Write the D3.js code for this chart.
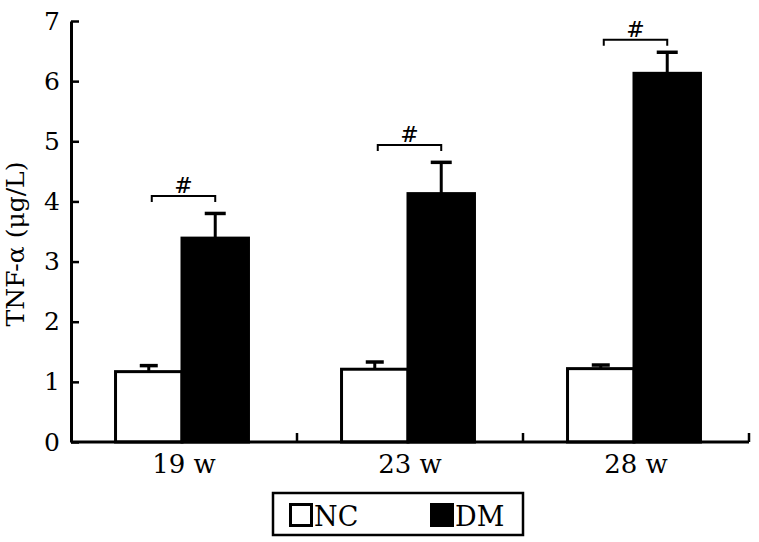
<!DOCTYPE html>
<html>
<head>
<meta charset="utf-8">
<script src="https://cdn.jsdelivr.net/npm/d3@7"></script>
<style>
  html, body { margin: 0; padding: 0; background: #fff; }
  svg { display: block; }
  text { font-family: "DejaVu Serif", "Liberation Serif", serif; fill: #000; }
</style>
</head>
<body>
<svg id="chart" width="759" height="542"></svg>
<script>
// ---- data ----
const categories = ["19 w", "23 w", "28 w"];
const groups = ["NC", "DM"];
const ncValues = [1.17, 1.21, 1.22];
const ncErrors = [0.10, 0.12, 0.06];
const dmValues = [3.39, 4.13, 6.13];
const dmErrors = [0.41, 0.52, 0.35];
const bracketValues = [4.09, 4.94, 6.69];
const yTicks = [0, 1, 2, 3, 4, 5, 6, 7];
const yTitle = "TNF-α (μg/L)";
const sigMark = "#";

// ---- layout ----
const svg = d3.select("#chart");
const x0 = 71, x1 = 749, yBottom = 442, yTop = 21;

const x = d3.scaleBand().domain(categories).range([x0, x1]).paddingInner(0).paddingOuter(0);
const xi = d3.scaleBand().domain(groups).range([0, x.bandwidth()]).paddingInner(0).paddingOuter(0.7);
const y = d3.scaleLinear().domain([0, 7]).range([yBottom, yTop]);

const rows = categories.map((c, i) => ({
  cat: c,
  bars: [
    { g: "NC", v: ncValues[i], e: ncErrors[i] },
    { g: "DM", v: dmValues[i], e: dmErrors[i] }
  ],
  bracket: bracketValues[i]
}));

const fill = { NC: "#fff", DM: "#000" };

const gGroups = svg.selectAll("g.grp").data(rows).join("g")
  .attr("class", "grp")
  .attr("transform", d => `translate(${x(d.cat) - 2},0)`);

// error bars (behind bars)
gGroups.each(function(d) {
  const g = d3.select(this);
  d.bars.forEach(b => {
    const cx = xi(b.g) + xi.bandwidth() / 2;
    const capW = b.g === "NC" ? 18 : 21;
    g.append("line")
      .attr("x1", cx).attr("x2", cx)
      .attr("y1", y(b.v)).attr("y2", y(b.v + b.e))
      .attr("stroke", "#000").attr("stroke-width", 3);
    g.append("line")
      .attr("x1", cx - capW / 2).attr("x2", cx + capW / 2)
      .attr("y1", y(b.v + b.e)).attr("y2", y(b.v + b.e))
      .attr("stroke", "#000").attr("stroke-width", 3.5);
  });
});

// bars
gGroups.selectAll("rect.bar").data(d => d.bars).join("rect")
  .attr("class", "bar")
  .attr("x", b => xi(b.g))
  .attr("width", xi.bandwidth())
  .attr("y", b => y(b.v))
  .attr("height", b => y(0) - y(b.v))
  .attr("fill", b => fill[b.g])
  .attr("stroke", "#000")
  .attr("stroke-width", 3);

// significance brackets
gGroups.each(function(d) {
  const g = d3.select(this);
  const xa = xi("NC") + xi.bandwidth() / 2 + 3;
  const xb = xi("DM") + xi.bandwidth() / 2;
  const yb = y(d.bracket);
  g.append("path")
    .attr("d", `M${xa},${yb + 6}V${yb}H${xb}V${yb + 6}`)
    .attr("fill", "none").attr("stroke", "#000").attr("stroke-width", 2);
  g.append("text")
    .attr("x", (xa + xb) / 2).attr("y", yb - 3)
    .attr("text-anchor", "middle")
    .style("font-size", "22px")
    .text(sigMark);
});

// y axis
const yAxis = d3.axisLeft(y).tickValues(yTicks).tickFormat(d3.format("d"))
  .tickSizeInner(-8).tickSizeOuter(0).tickPadding(11);
const gy = svg.append("g").attr("transform", `translate(${x0},0)`).call(yAxis);
gy.attr("font-family", null).attr("font-size", null);
gy.select(".domain").attr("stroke", "#000").attr("stroke-width", 3);
gy.selectAll(".tick line").attr("stroke", "#000").attr("stroke-width", 2.5);
gy.selectAll(".tick text").style("font-size", "25px");

// x axis
const xAxis = d3.axisBottom(x).tickSize(0).tickPadding(13);
const gx = svg.append("g").attr("transform", `translate(0,${yBottom})`).call(xAxis);
gx.attr("font-family", null).attr("font-size", null);
gx.select(".domain").attr("stroke", "#000").attr("stroke-width", 3).attr("d", `M${x0},0H${x1}`);
gx.selectAll(".tick text").style("font-size", "26px");
// category boundary ticks (inward)
const bounds = categories.map(c => x(c) + x.bandwidth());
gx.selectAll("line.bnd").data(bounds).join("line")
  .attr("class", "bnd")
  .attr("x1", d => d).attr("x2", d => d)
  .attr("y1", 0).attr("y2", -9)
  .attr("stroke", "#000").attr("stroke-width", 2.5);

// y title
svg.append("text")
  .attr("transform", `translate(24,244) rotate(-90)`)
  .attr("text-anchor", "middle")
  .style("font-size", "25px")
  .text(yTitle);

// legend
const lg = svg.append("g").attr("transform", "translate(273,493)");
lg.append("rect").attr("width", 250).attr("height", 42)
  .attr("fill", "#fff").attr("stroke", "#000").attr("stroke-width", 2.5);
const legendX = [16, 157];
groups.forEach((gname, i) => {
  lg.append("rect")
    .attr("x", legendX[i] + 1.5).attr("y", 11.5)
    .attr("width", 21).attr("height", 21)
    .attr("fill", fill[gname]).attr("stroke", "#000").attr("stroke-width", 3);
  lg.append("text")
    .attr("x", legendX[i] + 25).attr("y", 33)
    .style("font-size", "27px")
    .text(gname);
});
</script>
</body>
</html>
